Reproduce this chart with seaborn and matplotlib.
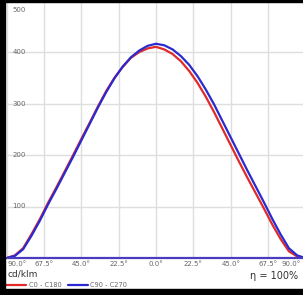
import numpy as np
import pandas as pd
import matplotlib
matplotlib.use("Agg")
import matplotlib.pyplot as plt
from matplotlib.lines import Line2D
from matplotlib.patches import Rectangle
import seaborn as sns

# angulos en grados (izquierda = lado C180 / C270)
angles = [-90, -85, -80, -75, -70, -65, -60, -55, -50, -45, -40, -35, -30, -25, -20, -15, -10, -5,
          0, 5, 10, 15, 20, 25, 30, 35, 40, 45, 50, 55, 60, 65, 70, 75, 80, 85, 90]
c0_c180 = [0, 5, 19, 46, 75, 107, 137, 168, 199, 231, 262, 294, 324, 350, 371, 389, 400, 407,
           410, 405, 396, 382, 363, 340, 313, 283, 251, 219, 187, 156, 126, 96, 65, 37, 13, 3, 0]
c90_c270 = [0, 4, 17, 43, 72, 104, 134, 165, 196, 228, 260, 292, 322, 349, 372, 390, 403, 412,
            416, 413, 405, 392, 375, 353, 327, 298, 266, 234, 202, 170, 139, 108, 76, 46, 19, 5, 0]
series_names = ["C0 - C180", "C90 - C270"]
colors = {"C0 - C180": "#e02a2a", "C90 - C270": "#2a2ad0"}
xticks = [-90, -67.5, -45, -22.5, 0, 22.5, 45, 67.5, 90]
yticks = [100, 200, 300, 400, 500]

df = pd.concat([
    pd.DataFrame({"angle": angles, "value": c0_c180, "series": series_names[0]}),
    pd.DataFrame({"angle": angles, "value": c90_c270, "series": series_names[1]}),
])

sns.set_style("white")
fig = plt.figure(figsize=(3.03, 2.95), dpi=100)
W, H = 303, 295
ax = fig.add_axes([6.5 / W, 37 / H, 299 / W, 257.5 / H])

sns.lineplot(data=df, x="angle", y="value", hue="series", palette=colors,
             linewidth=1.6, legend=False, ax=ax, sort=False)

ax.set_xlim(-90, 90)
ax.set_ylim(0, 500)
ax.set_xticks(xticks)
ax.set_yticks(yticks)
ax.grid(True, color="#dedede", linewidth=1.0)
ax.set_axisbelow(True)
ax.set_xlabel("")
ax.set_ylabel("")
ax.tick_params(length=0, labelleft=False, labelbottom=False)
for s in ["top", "left", "right"]:
    ax.spines[s].set_visible(False)
ax.spines["bottom"].set_color("#4a3cc0")
ax.spines["bottom"].set_linewidth(1.6)

# etiquetas de eje y dentro del area
for v in yticks:
    yy = v if v < 500 else 481
    ax.text(0.02, yy, str(v), transform=ax.get_yaxis_transform(), fontsize=5,
            color="#666666", va="center", ha="left")

# etiquetas de eje x
for i, t in enumerate(xticks):
    lab = f"{abs(t):.1f}°"
    ha = "center"
    xx = t
    if i == 0:
        ha = "left"
        xx = -89.5
    elif i == len(xticks) - 1:
        ha = "right"
        xx = 87
    ax.text(xx, -12, lab, fontsize=5, color="#666666", ha=ha, va="center")

fig.text(8 / W, 1 - 274 / H, "cd/klm", fontsize=6.5, color="#333333", va="center", ha="left")
fig.text(298 / W, 1 - 276 / H, "η = 100%", fontsize=7, color="#333333", va="center", ha="right")

# leyenda manual
fig.add_artist(Line2D([5 / W, 26 / W], [1 - 285 / H] * 2, color=colors["C0 - C180"], lw=1.6))
fig.text(29 / W, 1 - 285 / H, "C0 - C180", fontsize=4.8, color="#666666", va="center")
fig.add_artist(Line2D([68 / W, 88 / W], [1 - 285 / H] * 2, color=colors["C90 - C270"], lw=1.6))
fig.text(90 / W, 1 - 285 / H, "C90 - C270", fontsize=4.8, color="#666666", va="center")

# marco negro
fig.add_artist(Rectangle((0, 0), 5 / W, 1, transform=fig.transFigure, color="black", zorder=10))
fig.add_artist(Rectangle((0, 1 - 2 / H), 1, 2 / H, transform=fig.transFigure, color="black", zorder=10))
fig.add_artist(Rectangle((0, 0), 1, 6 / H, transform=fig.transFigure, color="black", zorder=10))

fig.savefig("out.png", dpi=100)
